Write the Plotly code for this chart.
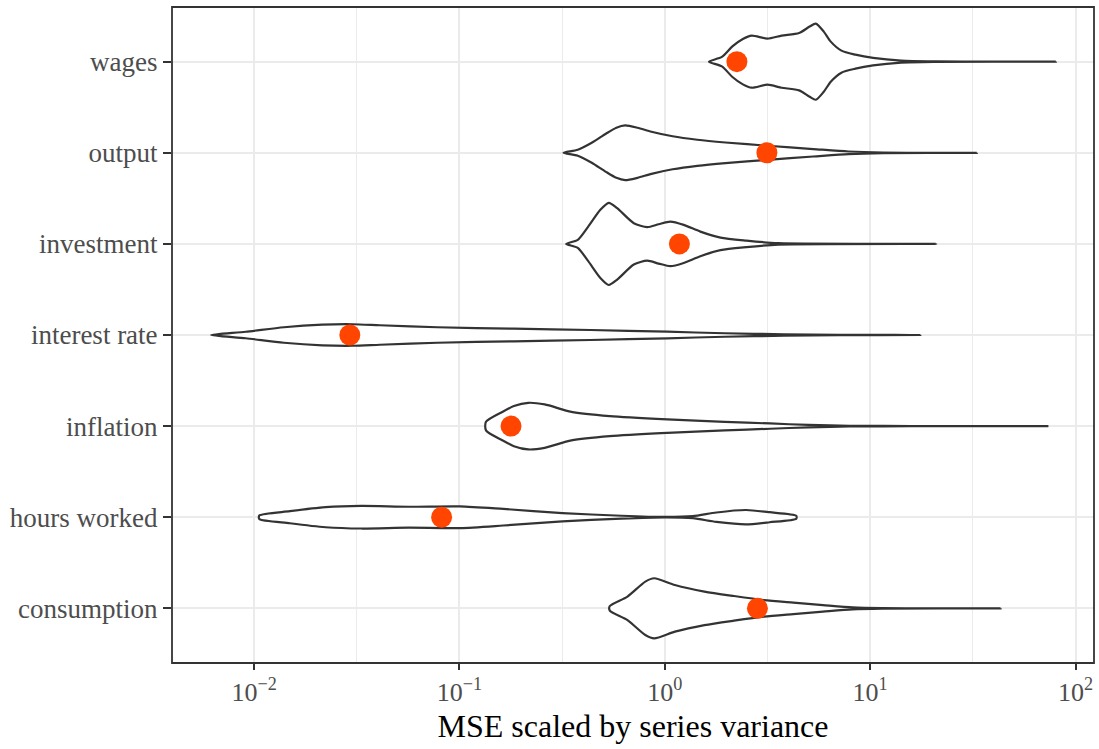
import numpy as np
import plotly.graph_objects as go

# Categories (bottom to top, as in the chart)
categories = ["consumption", "hours worked", "inflation", "interest rate",
              "investment", "output", "wages"]

# Violin outlines:
# positions along x as log10(MSE), half-widths in category units
consumption_log10 = [-0.268, -0.182, -0.095, -0.052, 0.049, 0.193, 0.337, 0.482, 0.626, 0.770, 0.914, 1.058, 1.635]
consumption_hw = [0.025, 0.129, 0.293, 0.330, 0.256, 0.184, 0.135, 0.091, 0.063, 0.036, 0.011, 0.003, 0.0]

hours_log10 = [-1.975, -1.826, -1.652, -1.479, -1.249, -0.998, -0.787, -0.499, -0.211, 0.0, 0.136, 0.251, 0.395, 0.510, 0.640]
hours_hw = [0.019, 0.066, 0.110, 0.124, 0.115, 0.119, 0.091, 0.046, 0.016, 0.003, 0.011, 0.052, 0.079, 0.055, 0.016]

inflation_log10 = [-0.871, -0.790, -0.735, -0.665, -0.585, -0.455, -0.268, 0.012, 0.292, 0.513, 0.70, 0.90, 1.20, 1.868]
inflation_hw = [0.047, 0.157, 0.220, 0.256, 0.238, 0.157, 0.110, 0.074, 0.047, 0.029, 0.013, 0.004, 0.001, 0.0]

interest_log10 = [-2.209, -2.041, -1.855, -1.668, -1.519, -1.388, -1.108, -0.735, -0.361, 0.012, 0.292, 0.58, 0.85, 1.244]
interest_hw = [0.0, 0.036, 0.085, 0.113, 0.118, 0.107, 0.085, 0.069, 0.055, 0.036, 0.019, 0.008, 0.002, 0.0]

investment_log10 = [-0.480, -0.424, -0.373, -0.314, -0.273, -0.232, -0.151, -0.086, -0.030, 0.027, 0.092, 0.173, 0.271, 0.397, 0.552, 1.322]
investment_hw = [0.0, 0.044, 0.190, 0.374, 0.451, 0.392, 0.227, 0.184, 0.216, 0.245, 0.209, 0.135, 0.069, 0.036, 0.008, 0.0]

output_log10 = [-0.493, -0.424, -0.356, -0.287, -0.236, -0.193, -0.133, -0.065, 0.038, 0.158, 0.295, 0.500, 0.723, 0.894, 1.065, 1.519]
output_hw = [0.0, 0.033, 0.110, 0.209, 0.275, 0.300, 0.275, 0.231, 0.181, 0.143, 0.113, 0.077, 0.041, 0.014, 0.003, 0.0]

wages_log10 = [0.215, 0.278, 0.329, 0.380, 0.423, 0.500, 0.569, 0.654, 0.705, 0.735, 0.774, 0.808, 0.860, 0.928, 1.014, 1.151, 1.322, 1.904]
wages_hw = [0.0, 0.052, 0.168, 0.249, 0.286, 0.253, 0.286, 0.315, 0.385, 0.418, 0.330, 0.220, 0.121, 0.077, 0.041, 0.011, 0.003, 0.0]

# Orange points (log10 of MSE), same order as categories
points_log10 = [0.451, -1.087, -0.749, -1.534, 0.071, 0.497, 0.351]

# Axis ticks
x_tick_vals = [0.01, 0.1, 1, 10, 100]
x_tick_text = ["10<sup>\u22122</sup>", "10<sup>\u22121</sup>", "10<sup>0</sup>",
               "10<sup>1</sup>", "10<sup>2</sup>"]
x_minor_vals = [10 ** -1.5, 10 ** -0.5, 10 ** 0.5, 10 ** 1.5]

violins = [
    (consumption_log10, consumption_hw),
    (hours_log10, hours_hw),
    (inflation_log10, inflation_hw),
    (interest_log10, interest_hw),
    (investment_log10, investment_hw),
    (output_log10, output_hw),
    (wages_log10, wages_hw),
]


def outline(logs, hw, center):
    logs = np.asarray(logs, dtype=float)
    hw = np.asarray(hw, dtype=float)
    xs = 10 ** logs
    top_x = list(xs)
    top_y = list(center + hw)
    bx = list(xs[::-1])
    by = list((center - hw)[::-1])
    if hw[-1] == 0:
        bx, by = bx[1:], by[1:]
    x = top_x + bx
    y = top_y + by
    if hw[0] == 0:
        x, y = x[:-1], y[:-1]
    x.append(x[0])
    y.append(y[0])
    return x, y


fig = go.Figure()
for i, (lg, hw) in enumerate(violins):
    vx, vy = outline(lg, hw, i)
    fig.add_trace(go.Scatter(
        x=vx, y=vy, mode="lines", fill="toself", fillcolor="white",
        line=dict(color="#333333", width=2.2, shape="spline", smoothing=0.7),
        hoverinfo="skip", showlegend=False))

fig.add_trace(go.Scatter(
    x=[10 ** v for v in points_log10], y=list(range(len(categories))),
    mode="markers", marker=dict(size=21, color="#FF4500"),
    showlegend=False))

fig.update_layout(
    width=1099, height=749,
    margin=dict(l=172, r=5, t=7, b=86, autoexpand=False),
    plot_bgcolor="white", paper_bgcolor="white",
    showlegend=False,
    font=dict(family="Liberation Serif"),
    xaxis=dict(
        type="log", range=[-2.40, 2.09], tickmode="array",
        tickvals=x_tick_vals, ticktext=x_tick_text,
        showgrid=True, gridcolor="#EBEBEB", gridwidth=1.8,
        minor=dict(tickmode="array", tickvals=x_minor_vals, showgrid=True,
                   gridcolor="#EBEBEB", gridwidth=1, ticks=""),
        ticks="outside", ticklen=6, tickwidth=2, tickcolor="#333333",
        tickfont=dict(size=26, color="#4D4D4D", family="Liberation Serif"),
        title=dict(text="MSE scaled by series variance",
                   font=dict(size=32, color="black", family="Liberation Serif"),
                   standoff=8),
        zeroline=False, showline=False, automargin=False,
    ),
    yaxis=dict(
        range=[-0.6, 6.6], tickmode="array",
        tickvals=list(range(len(categories))), ticktext=categories,
        showgrid=True, gridcolor="#EBEBEB", gridwidth=1.8,
        ticks="outside", ticklen=8, tickwidth=2, tickcolor="#333333",
        tickfont=dict(size=27, color="#4D4D4D", family="Liberation Serif"),
        zeroline=False, showline=False, automargin=False,
    ),
    shapes=[dict(type="rect", xref="paper", yref="paper", x0=0, x1=1, y0=0, y1=1,
                 line=dict(color="#333333", width=1.8), layer="above")],
)

fig.write_html("out.html",
               config={"displayModeBar": False},
               post_script="document.body.style.margin='0';"
                           "document.body.style.overflow='hidden';")
